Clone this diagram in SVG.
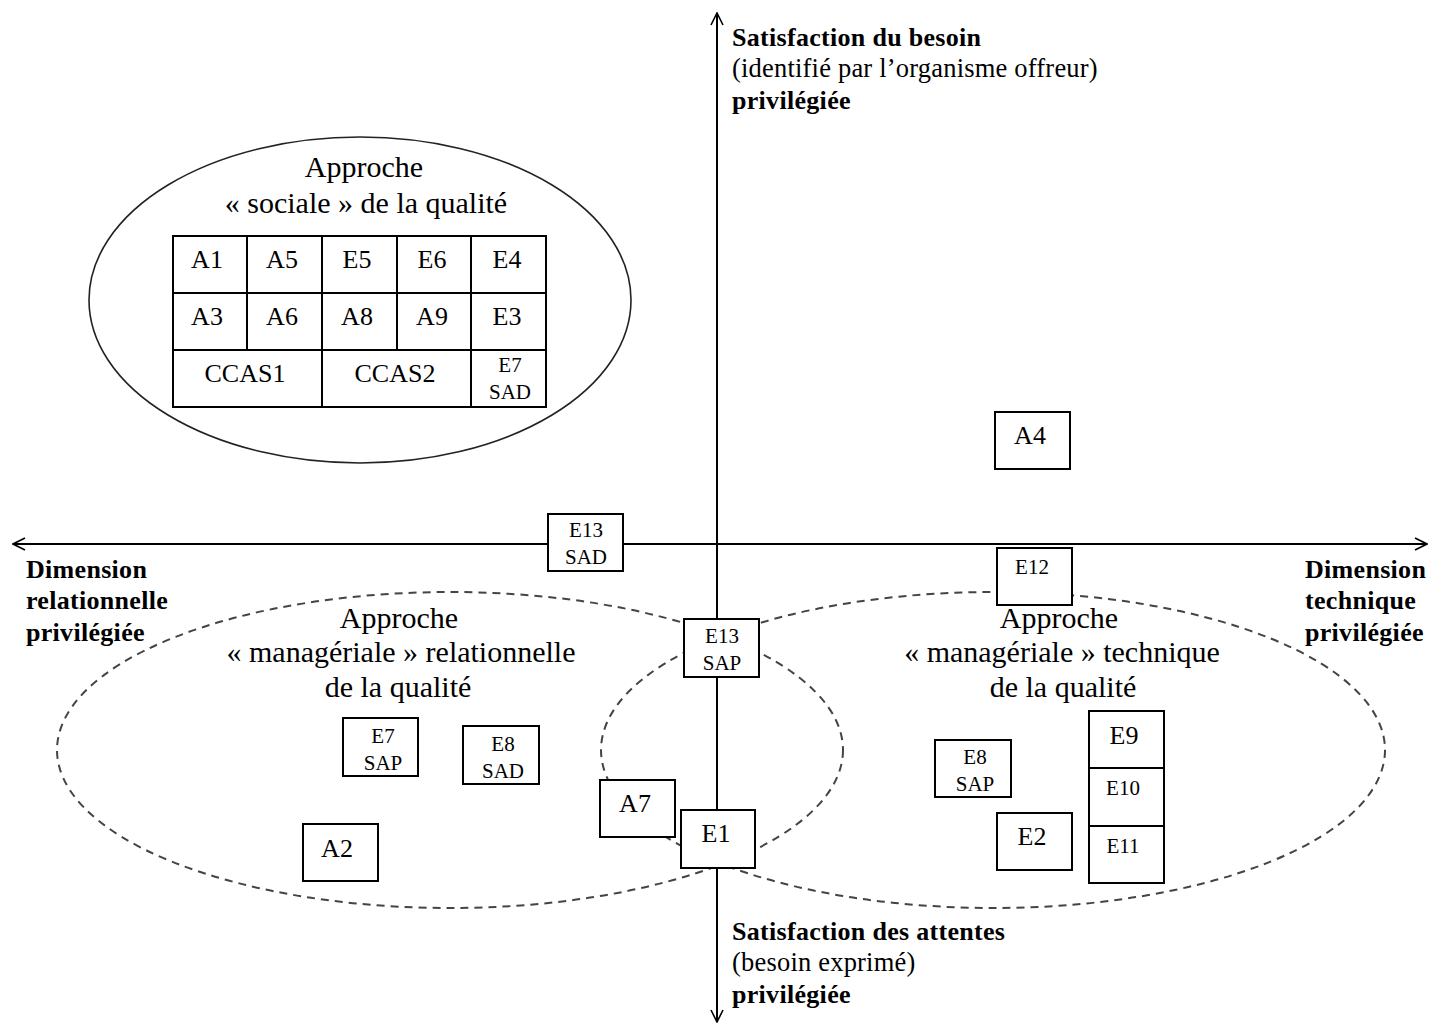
<svg xmlns="http://www.w3.org/2000/svg" width="1429" height="1025" viewBox="0 0 1429 1025">
<style>
text{font-family:"Liberation Serif","Times New Roman",serif;fill:#000}
.t26{font-size:26px}
.t30{font-size:30px}
.t21{font-size:21px}
.b{font-weight:bold;font-size:26px;letter-spacing:0.3px}
.n{font-size:26.5px;letter-spacing:0.2px}
.c{text-anchor:middle}
.box{fill:#fff;stroke:#000;stroke-width:2}
.axis{stroke:#000;stroke-width:2;fill:none}
.dash{fill:none;stroke:#444;stroke-width:2;stroke-dasharray:8 6}
</style>
<defs>
<marker id="arr" viewBox="0 0 14 14" refX="13" refY="7" markerWidth="14" markerHeight="14" markerUnits="userSpaceOnUse" orient="auto-start-reverse">
<path d="M1,1 L13,7 L1,13" fill="none" stroke="#000" stroke-width="1.6"/>
</marker>
</defs>
<rect width="1429" height="1025" fill="#fff"/>

<g id="zones">
<ellipse cx="360" cy="300" rx="271" ry="163" fill="none" stroke="#222" stroke-width="1.6"/>
<ellipse class="dash" cx="450" cy="750" rx="393" ry="158"/>
<ellipse class="dash" cx="993" cy="750" rx="392" ry="158"/>
</g>

<g id="connectors">
<line class="axis" x1="717" y1="13" x2="717" y2="1022" marker-start="url(#arr)" marker-end="url(#arr)"/>
<line class="axis" x1="13" y1="544" x2="1427" y2="544" marker-start="url(#arr)" marker-end="url(#arr)"/>
</g>

<g id="axis-labels">
<text class="b" x="732" y="46">Satisfaction du besoin</text>
<text class="n" x="732" y="77">(identifié par l’organisme offreur)</text>
<text class="b" x="732" y="109">privilégiée</text>
<text class="b" x="732" y="940">Satisfaction des attentes</text>
<text class="n" x="732" y="971">(besoin exprimé)</text>
<text class="b" x="732" y="1003">privilégiée</text>
<text class="b" x="26" y="578">Dimension</text>
<text class="b" x="26" y="609">relationnelle</text>
<text class="b" x="26" y="641">privilégiée</text>
<text class="b" x="1305" y="578">Dimension</text>
<text class="b" x="1305" y="609">technique</text>
<text class="b" x="1305" y="641">privilégiée</text>
</g>

<g id="zone-labels">
<text class="t30 c" x="364" y="177">Approche</text>
<text class="t30 c" x="366" y="213">« sociale » de la qualité</text>
<text class="t30 c" x="399" y="628">Approche</text>
<text class="t30 c" x="401" y="662">« managériale » relationnelle</text>
<text class="t30 c" x="398" y="697">de la qualité</text>
<text class="t30 c" x="1059" y="628">Approche</text>
<text class="t30 c" x="1062" y="662">« managériale » technique</text>
<text class="t30 c" x="1063" y="697">de la qualité</text>
</g>

<g id="social-table">
<rect class="box" x="173" y="236" width="373" height="171"/>
<path d="M173,293 H546 M173,350 H546 M247,236 V350 M322,236 V407 M397,236 V350 M471,236 V407" stroke="#000" stroke-width="2" fill="none"/>
<text class="t26 c" x="207" y="268">A1</text>
<text class="t26 c" x="282" y="268">A5</text>
<text class="t26 c" x="357" y="268">E5</text>
<text class="t26 c" x="432" y="268">E6</text>
<text class="t26 c" x="507" y="268">E4</text>
<text class="t26 c" x="207" y="325">A3</text>
<text class="t26 c" x="282" y="325">A6</text>
<text class="t26 c" x="357" y="325">A8</text>
<text class="t26 c" x="432" y="325">A9</text>
<text class="t26 c" x="507" y="325">E3</text>
<text class="t26 c" x="245" y="382">CCAS1</text>
<text class="t26 c" x="395" y="382">CCAS2</text>
<text class="t21 c" x="510" y="372">E7</text>
<text class="t21 c" x="510" y="399">SAD</text>
</g>

<g id="A4"><rect class="box" x="995" y="412" width="75" height="57"/><text class="t26 c" x="1030" y="444">A4</text></g>
<g id="E13-SAD"><rect class="box" x="548" y="514" width="75" height="57"/><text class="t21 c" x="586" y="537">E13</text><text class="t21 c" x="586" y="564">SAD</text></g>
<g id="E12"><rect class="box" x="997" y="548" width="75" height="57"/><text class="t21 c" x="1032" y="574">E12</text></g>
<g id="E13-SAP"><rect class="box" x="684" y="619" width="75" height="58"/><text class="t21 c" x="722" y="643">E13</text><text class="t21 c" x="722" y="670">SAP</text></g>
<g id="E7-SAP"><rect class="box" x="343" y="718" width="75" height="58"/><text class="t21 c" x="383" y="743">E7</text><text class="t21 c" x="383" y="770">SAP</text></g>
<g id="E8-SAD"><rect class="box" x="463" y="726" width="76" height="58"/><text class="t21 c" x="503" y="751">E8</text><text class="t21 c" x="503" y="778">SAD</text></g>
<g id="A2"><rect class="box" x="303" y="824" width="75" height="57"/><text class="t26 c" x="337" y="857">A2</text></g>
<g id="A7"><rect class="box" x="600" y="780" width="75" height="57"/><text class="t26 c" x="635" y="812">A7</text></g>
<g id="E1"><rect class="box" x="681" y="810" width="74" height="58"/><text class="t26 c" x="716" y="842">E1</text></g>
<g id="E8-SAP"><rect class="box" x="935" y="740" width="76" height="57"/><text class="t21 c" x="975" y="764">E8</text><text class="t21 c" x="975" y="791">SAP</text></g>
<g id="E2"><rect class="box" x="997" y="813" width="75" height="57"/><text class="t26 c" x="1032" y="845">E2</text></g>
<g id="E9-E10-E11">
<rect class="box" x="1089" y="711" width="75" height="172"/>
<path d="M1089,768 H1164 M1089,826 H1164" stroke="#000" stroke-width="2"/>
<text class="t26 c" x="1124" y="744">E9</text>
<text class="t21 c" x="1123" y="795">E10</text>
<text class="t21 c" x="1123" y="853">E11</text>
</g>
</svg>
